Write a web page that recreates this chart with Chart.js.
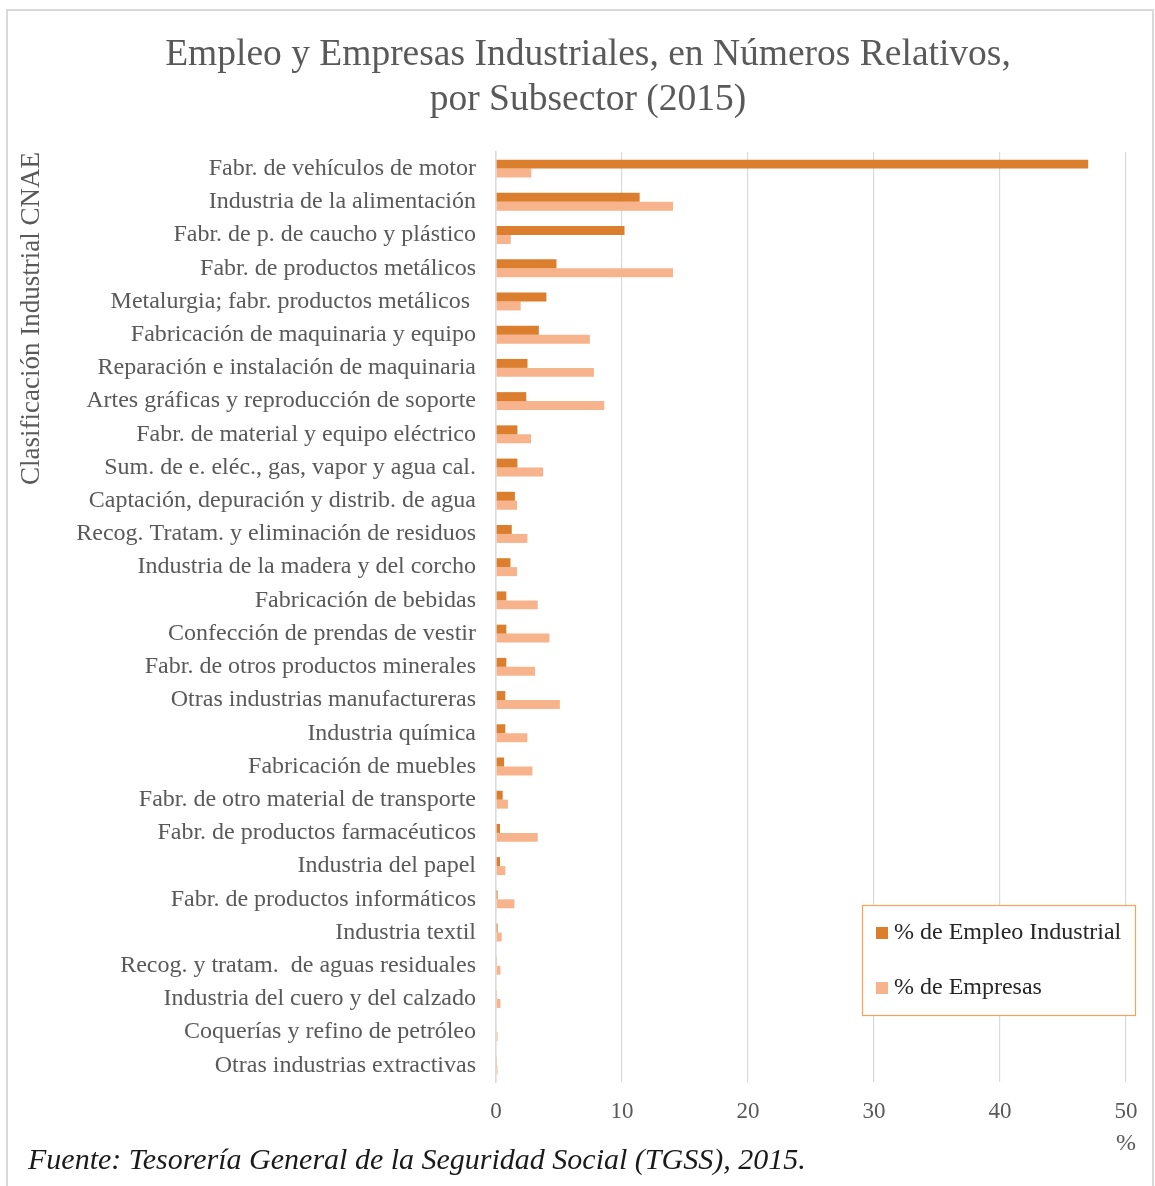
<!DOCTYPE html>
<html><head><meta charset="utf-8">
<script src="https://cdn.jsdelivr.net/npm/chart.js@4.4.1/dist/chart.umd.min.js"></script>
<style>html,body{margin:0;padding:0;background:#fff;}#wrap{width:1155px;height:1186px;position:relative;}</style>
</head><body><div id="wrap"><canvas id="c" width="1155" height="1186"></canvas></div>
<script>
const categories = [
  "Fabr. de vehículos de motor",
  "Industria de la alimentación",
  "Fabr. de p. de caucho y plástico",
  "Fabr. de productos metálicos",
  "Metalurgia; fabr. productos metálicos ",
  "Fabricación de maquinaria y equipo",
  "Reparación e instalación de maquinaria",
  "Artes gráficas y reproducción de soporte",
  "Fabr. de material y equipo eléctrico",
  "Sum. de e. eléc., gas, vapor y agua cal.",
  "Captación, depuración y distrib. de agua",
  "Recog. Tratam. y eliminación de residuos",
  "Industria de la madera y del corcho",
  "Fabricación de bebidas",
  "Confección de prendas de vestir",
  "Fabr. de otros productos minerales",
  "Otras industrias manufactureras",
  "Industria química",
  "Fabricación de muebles",
  "Fabr. de otro material de transporte",
  "Fabr. de productos farmacéuticos",
  "Industria del papel",
  "Fabr. de productos informáticos",
  "Industria textil",
  "Recog. y tratam.  de aguas residuales",
  "Industria del cuero y del calzado",
  "Coquerías y refino de petróleo",
  "Otras industrias extractivas"
];
const empleo = [47.0, 11.4, 10.2, 4.8, 4.0, 3.4, 2.5, 2.4, 1.7, 1.7, 1.5, 1.25, 1.15, 0.82, 0.82, 0.82, 0.74, 0.74, 0.64, 0.53, 0.32, 0.32, 0.13, 0.13, 0.03, 0.03, 0.05, 0.03];
const empresas = [2.8, 14.05, 1.17, 14.05, 1.96, 7.45, 7.77, 8.59, 2.78, 3.74, 1.67, 2.49, 1.67, 3.31, 4.24, 3.1, 5.07, 2.49, 2.89, 0.95, 3.31, 0.74, 1.46, 0.45, 0.35, 0.35, 0.12, 0.12];
const seriesNames = ["% de Empleo Industrial", "% de Empresas"];
const xTicks = [0, 10, 20, 30, 40, 50];
const titleLines = ["Empleo y Empresas Industriales, en Números Relativos,", "por Subsector (2015)"];
const yTitle = "Clasificación Industrial CNAE";
const sourceText = "Fuente: Tesorería General de la Seguridad Social (TGSS), 2015.";
const unitText = "%";

const C1 = "#DB7F2F", C2 = "#F7B38B", GRAY = "#595959", SERIF = "'Liberation Serif','Times New Roman',serif";

const extras = {
  id: 'extras',
  afterDraw(chart) {
    const ctx = chart.ctx;
    ctx.save();
    // frame
    ctx.strokeStyle = "#d9d9d9"; ctx.lineWidth = 2;
    ctx.strokeRect(7, 10, 1146, 1200);
    // title
    ctx.fillStyle = GRAY; ctx.font = "37.5px " + SERIF; ctx.textAlign = "center"; ctx.textBaseline = "middle";
    ctx.fillText(titleLines[0], 588, 55);
    ctx.fillText(titleLines[1], 588, 100);
    // legend
    const lx = 862, ly = 905, lw = 273, lh = 110;
    ctx.fillStyle = "#fff"; ctx.fillRect(lx, ly, lw, lh);
    ctx.strokeStyle = "#F5A25D"; ctx.lineWidth = 1.2;
    ctx.strokeRect(lx + 0.5, ly + 0.5, lw, lh);
    ctx.font = "24px " + SERIF; ctx.textBaseline = "middle"; ctx.textAlign = "left";
    const items = [[C1, seriesNames[0], 933], [C2, seriesNames[1], 988]];
    items.forEach(([col, txt, y]) => {
      ctx.fillStyle = col; ctx.fillRect(876, y - 6, 12, 12);
      ctx.fillStyle = "#262626"; ctx.fillText(txt, 894, y);
    });
    // unit
    ctx.fillStyle = GRAY; ctx.font = "24px " + SERIF; ctx.textAlign = "center";
    ctx.fillText(unitText, chart.scales.x.getPixelForValue(50), 1144);
    // source
    ctx.fillStyle = "#1a1a1a"; ctx.font = "italic 30px " + SERIF; ctx.textAlign = "left";
    ctx.fillText(sourceText, 28, 1161);
    ctx.restore();
  }
};

new Chart(document.getElementById('c'), {
  type: 'bar',
  data: {
    labels: categories,
    datasets: [
      { label: seriesNames[0], data: empleo, backgroundColor: C1, categoryPercentage: 0.54, barPercentage: 1.0 },
      { label: seriesNames[1], data: empresas, backgroundColor: C2, categoryPercentage: 0.54, barPercentage: 1.0 }
    ]
  },
  options: {
    indexAxis: 'y',
    responsive: false,
    animation: false,
    layout: { padding: { left: 14, right: 29, top: 152, bottom: 0 } },
    plugins: {
      legend: { display: false },
      tooltip: { enabled: false },
      title: { display: false }
    },
    scales: {
      x: {
        min: 0, max: 50,
        afterBuildTicks(s) { s.ticks = xTicks.map(v => ({ value: v })); },
        afterFit(s) { s.height = 104; },
        grid: { color: "#d9d9d9", lineWidth: 1.2, drawTicks: false },
        border: { display: false },
        ticks: { color: GRAY, font: { family: SERIF, size: 23 }, padding: 16 }
      },
      y: {
        afterFit(s) { s.width = 482; },
        grid: { display: false },
        border: { display: true, color: "#d9d9d9", width: 1.5 },
        ticks: { color: GRAY, font: { family: SERIF, size: 24 }, padding: 12, autoSkip: false },
        title: { display: true, text: yTitle, align: 'end', color: GRAY, font: { family: SERIF, size: 27 }, padding: { top: 2, bottom: 0 } }
      }
    }
  },
  plugins: [extras]
});
</script></body></html>
